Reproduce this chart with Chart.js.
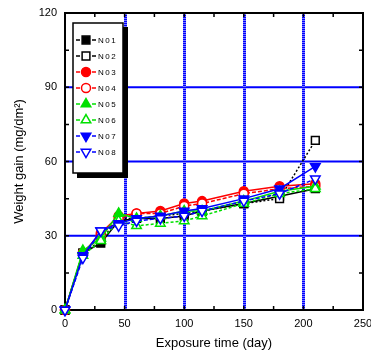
<!DOCTYPE html>
<html>
<head>
<meta charset="utf-8">
<script src="https://cdn.jsdelivr.net/npm/chart.js@4.4.1/dist/chart.umd.min.js"></script>
<style>
  html, body { margin: 0; padding: 0; background: #fff; }
  #wrap { width: 371px; height: 358px; }
</style>
</head>
<body>
<div id="wrap"><canvas id="c" width="371" height="358"></canvas></div>
<script>
// exposure days
const days = [0, 15, 30, 45, 60, 80, 100, 115, 150, 180, 210];

// weight gain (mg/dm2) per sample
const n01 = [0, 23, 27, 36, 37, 37, 38, 40, 43, 46, 49];
const n02 = [0, 23, 28, 37, 37, 38, 39, 40, 43, 45, 68.5];
const n03 = [0, 23, 31, 38, 39, 40, 43, 44, 48, 50, 51];
const n04 = [0, 23, 30, 37, 39, 39, 42, 43, 47, 49, 50];
const n05 = [0, 24, 29, 39, 37, 38, 40, 40, 44, 48, 50];
const n06 = [0, 22, 28, 36, 34, 35, 36, 38, 43, 47, 49];
const n07 = [0, 22, 32, 35, 37, 38, 40, 41, 45, 49, 58];
const n08 = [0, 21, 32, 34, 36, 37, 38, 40, 44, 47, 53];

const labels = ["N01", "N02", "N03", "N04", "N05", "N06", "N07", "N08"];
const seriesData = [n01, n02, n03, n04, n05, n06, n07, n08];
const colors = ["#000000", "#000000", "#ff0000", "#ff0000", "#00e000", "#00e000", "#0000ff", "#0000ff"];
const shapes = ["rect", "rect", "circle", "circle", "triangle", "triangle", "triangle", "triangle"];
const rotations = [0, 0, 0, 0, 0, 0, 180, 180];
const filled = [true, false, true, false, true, false, true, false];
const dashes = [[], [2, 2], [], [4, 2], [], [3, 2], [], [4, 2]];
const radius = { rect: 5.5, circle: 4.5, triangle: 5.5 };

const xGridVals = [50, 100, 150, 200];
const yGridVals = [30, 60, 90];

const datasets = seriesData.map((vals, i) => ({
  label: labels[i],
  data: days.map((d, j) => ({ x: d, y: vals[j] })),
  borderColor: colors[i],
  backgroundColor: filled[i] ? colors[i] : "#ffffff",
  pointBorderColor: colors[i],
  pointBackgroundColor: filled[i] ? colors[i] : "#ffffff",
  pointStyle: shapes[i],
  pointRotation: rotations[i],
  pointRadius: radius[shapes[i]],
  pointBorderWidth: 1.5,
  borderWidth: 1.5,
  borderDash: dashes[i],
  tension: 0,
  clip: false,
  order: 8 - i
}));

const font = "Arial, 'Liberation Sans', sans-serif";

// grid, frame and inward tick marks
const framePlugin = {
  id: "frame",
  beforeDatasetsDraw(chart) {
    const { ctx, chartArea: a, scales: { x, y } } = chart;
    ctx.save();
    ctx.strokeStyle = "#0000ff";
    ctx.lineWidth = 2;
    yGridVals.forEach(v => {
      const py = y.getPixelForValue(v);
      ctx.beginPath(); ctx.moveTo(a.left, py); ctx.lineTo(a.right, py); ctx.stroke();
    });
    xGridVals.forEach(v => {
      const px = Math.round(x.getPixelForValue(v)) + 0.5;
      ctx.lineWidth = 3;
      ctx.setLineDash([]);
      ctx.strokeStyle = "#7878ff";
      ctx.beginPath(); ctx.moveTo(px, a.top); ctx.lineTo(px, a.bottom); ctx.stroke();
      ctx.setLineDash([1, 1]);
      ctx.strokeStyle = "#0000ff";
      ctx.beginPath(); ctx.moveTo(px, a.top); ctx.lineTo(px, a.bottom); ctx.stroke();
    });
    ctx.setLineDash([]);

    ctx.strokeStyle = "#000";
    ctx.lineWidth = 1.5;
    for (let v = 25; v < 250; v += 25) {
      const px = x.getPixelForValue(v);
      ctx.beginPath();
      ctx.moveTo(px, a.bottom); ctx.lineTo(px, a.bottom - 4);
      ctx.moveTo(px, a.top); ctx.lineTo(px, a.top + 4);
      ctx.stroke();
    }
    for (let v = 15; v < 120; v += 15) {
      const py = y.getPixelForValue(v);
      ctx.beginPath();
      ctx.moveTo(a.left, py); ctx.lineTo(a.left + 4, py);
      ctx.moveTo(a.right, py); ctx.lineTo(a.right - 4, py);
      ctx.stroke();
    }
    ctx.lineWidth = 2;
    ctx.strokeRect(a.left, a.top, a.right - a.left, a.bottom - a.top);
    ctx.restore();
  }
};

// boxed legend with drop shadow
const legendPlugin = {
  id: "boxLegend",
  afterDatasetsDraw(chart) {
    const { ctx } = chart;
    const bx = 73, by = 23, bw = 50, bh = 150;
    ctx.save();
    ctx.fillStyle = "#000";
    ctx.fillRect(bx + 4, by + 4, bw + 1, bh + 1);
    ctx.fillStyle = "#fff";
    ctx.fillRect(bx, by, bw, bh);
    ctx.strokeStyle = "#000";
    ctx.lineWidth = 1.5;
    ctx.strokeRect(bx, by, bw, bh);

    ctx.font = "8px " + font;
    ctx.textBaseline = "middle";
    ctx.textAlign = "left";
    if ("letterSpacing" in ctx) ctx.letterSpacing = "1.5px";
    labels.forEach((lab, i) => {
      const cy = by + 17 + i * 16;
      const cx = bx + 13;
      ctx.strokeStyle = colors[i];
      ctx.lineWidth = 1.5;
      ctx.beginPath();
      ctx.moveTo(bx + 3, cy); ctx.lineTo(bx + 7, cy);
      ctx.moveTo(bx + 19, cy); ctx.lineTo(bx + 23, cy);
      ctx.stroke();
      ctx.fillStyle = filled[i] ? colors[i] : "#fff";
      Chart.helpers.drawPoint(ctx, {
        pointStyle: shapes[i], rotation: rotations[i], radius: radius[shapes[i]], borderWidth: 1.5
      }, cx, cy);
      ctx.fillStyle = "#000";
      ctx.fillText(lab, bx + 25, cy + 0.5);
    });
    ctx.restore();
  }
};

new Chart(document.getElementById("c"), {
  type: "line",
  data: { datasets },
  options: {
    responsive: false,
    animation: false,
    layout: { padding: { top: 13, right: 0, left: 0, bottom: 0 } },
    plugins: { legend: { display: false }, tooltip: { enabled: false } },
    scales: {
      x: {
        type: "linear", min: 0, max: 250,
        grid: { display: false, drawTicks: false },
        border: { display: false },
        ticks: { stepSize: 50, padding: 7, color: "#000", font: { size: 11, family: font } },
        title: { display: true, text: "Exposure time (day)", color: "#000", font: { size: 13, family: font }, padding: { top: 4, bottom: 7 } },
        afterFit(s) { s.height = 48; s.paddingRight = 8; s.paddingLeft = 0; }
      },
      y: {
        type: "linear", min: 0, max: 120,
        grid: { display: false, drawTicks: false },
        border: { display: false },
        ticks: { stepSize: 30, padding: 8, color: "#000", font: { size: 11, family: font } },
        title: { display: true, text: "Weight gain (mg/dm²)", color: "#000", font: { size: 13, family: font }, padding: { top: 12, bottom: 4 } },
        afterFit(s) { s.width = 65; s.paddingTop = 0; s.paddingBottom = 0; }
      }
    }
  },
  plugins: [framePlugin, legendPlugin]
});
</script>
</body>
</html>
